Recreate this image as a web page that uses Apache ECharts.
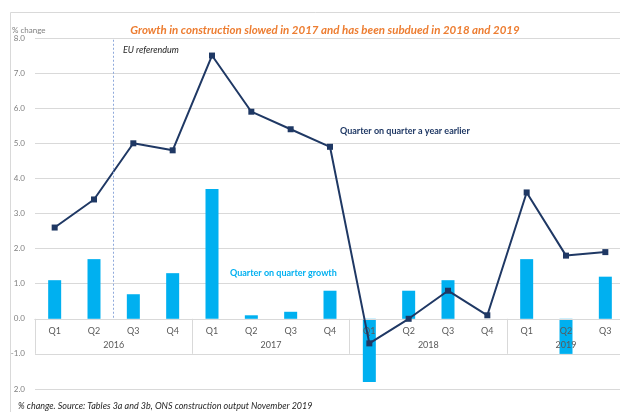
<!DOCTYPE html>
<html>
<head>
<meta charset="utf-8">
<script src="https://cdn.jsdelivr.net/npm/echarts@6/dist/echarts.min.js"></script>
<style>html,body{margin:0;padding:0;background:#fff}#c{width:620px;height:412px}</style>
</head>
<body>
<div id="c"></div>
<script>
var quarters = ['Q1','Q2','Q3','Q4','Q1','Q2','Q3','Q4','Q1','Q2','Q3','Q4','Q1','Q2','Q3'];
var years = ['2016','2017','2018','2019'];
var yearQuarterCounts = [4, 4, 4, 3];
var qoqGrowth = [1.1, 1.7, 0.7, 1.3, 3.7, 0.1, 0.2, 0.8, -1.8, 0.8, 1.1, 0.0, 1.7, -1.0, 1.2];
var qoqYearEarlier = [2.6, 3.4, 5.0, 4.8, 7.5, 5.9, 5.4, 4.9, -0.7, 0.0, 0.8, 0.1, 3.6, 1.8, 1.9];
var yTickValues = [-2, -1, 0, 1, 2, 3, 4, 5, 6, 7, 8];
var yTickLabels = ['2.0', '-1.0', '0.0', '1.0', '2.0', '3.0', '4.0', '5.0', '6.0', '7.0', '8.0'];
var euReferendumAfterIndex = 2; // boundary between Q2 and Q3 2016

// half-quarter slots for the year row
var nSlots = quarters.length * 2;
var yearSlots = [];
for (var i = 0; i <= nSlots; i++) yearSlots.push('');
var boundaries = [];
var start = 0;
for (var y = 0; y < years.length; y++) {
  boundaries.push(start * 2);
  var center = start * 2 + yearQuarterCounts[y];
  yearSlots[center] = years[y];
  start += yearQuarterCounts[y];
}
boundaries.push(start * 2);

var gridTop = 38, gridHeight = 351, yMin = -2, yMax = 8;
// distance from grid bottom to the zero line
var zeroOffset = -gridHeight * (0 - yMin) / (yMax - yMin);

var chart = echarts.init(document.getElementById('c'), null, {renderer: 'canvas'});
var grey = '#D9D9D9';
var option = {
  animation: false,
  backgroundColor: '#fff',
  textStyle: {fontFamily: 'Lato'},
  grid: {left: 35, top: gridTop, width: 590, height: gridHeight, outerBoundsMode: 'none', containLabel: false},
  xAxis: [{
    type: 'category',
    data: quarters,
    position: 'bottom',
    offset: zeroOffset,
    z: 3,
    axisLine: {show: true, onZero: false, lineStyle: {color: grey}},
    axisTick: {show: false},
    axisLabel: {interval: 0, color: '#595959', fontSize: 9, margin: 8, fontFamily: 'Lato'},
    splitLine: {show: false}
  }, {
    type: 'category',
    data: yearSlots,
    boundaryGap: false,
    position: 'bottom',
    offset: zeroOffset,
    z: 3,
    axisLine: {show: true, onZero: false, lineStyle: {color: grey}},
    axisTick: {show: true, length: 35, interval: function (idx) { return boundaries.indexOf(idx) >= 0; }, lineStyle: {color: grey}},
    axisLabel: {interval: 0, color: '#595959', fontSize: 9, margin: 22, fontFamily: 'Lato'},
    splitLine: {show: false}
  }],
  yAxis: {
    type: 'value',
    min: yMin, max: yMax, interval: 1,
    axisLine: {show: false},
    axisTick: {show: false},
    splitLine: {lineStyle: {color: grey, width: 1}},
    axisLabel: {
      color: '#7F7F7F', fontSize: 8, margin: 10, fontFamily: 'Lato',
      formatter: function (v) { var k = yTickValues.indexOf(Math.round(v)); return k >= 0 ? yTickLabels[k] : ''; }
    }
  },
  series: [{
    name: 'Quarter on quarter growth',
    type: 'bar',
    data: qoqGrowth,
    barWidth: 13,
    itemStyle: {color: '#00B0F0'},
    z: 2
  }, {
    name: 'Quarter on quarter a year earlier',
    type: 'line',
    data: qoqYearEarlier,
    symbol: 'rect',
    symbolSize: 6,
    lineStyle: {color: '#1F3864', width: 2},
    itemStyle: {color: '#1F3864'},
    z: 4
  }, {
    name: 'EU referendum',
    type: 'line',
    xAxisIndex: 1,
    data: [],
    silent: true,
    markLine: {
      silent: true,
      symbol: ['none', 'none'],
      label: {show: false},
      lineStyle: {color: '#8EA9DB', type: [2, 2], width: 1},
      data: [[{coord: [euReferendumAfterIndex * 2, 7.95]}, {coord: [euReferendumAfterIndex * 2, 0]}]]
    }
  }],
  graphic: [
    {type: 'rect', shape: {x: 10.5, y: 12.5, width: 620, height: 420}, style: {fill: null, stroke: grey, lineWidth: 1}, silent: true},
    {type: 'text', x: 325, y: 30, style: {text: 'Growth in construction slowed in 2017 and has been subdued in 2018 and 2019', fill: '#ED7D31', font: 'italic bold 11.5px Lato', align: 'center', verticalAlign: 'middle'}},
    {type: 'text', x: 12, y: 30, style: {text: '% change', fill: '#7F7F7F', font: '8px Lato', align: 'left', verticalAlign: 'middle'}},
    {type: 'text', x: 123, y: 50, style: {text: 'EU referendum', fill: '#262626', font: 'italic 9px Lato', align: 'left', verticalAlign: 'middle'}},
    {type: 'text', x: 340, y: 131, style: {text: 'Quarter on quarter a year earlier', fill: '#1F3864', font: 'bold 9px Lato', align: 'left', verticalAlign: 'middle'}},
    {type: 'text', x: 230, y: 273, style: {text: 'Quarter on quarter growth', fill: '#00B0F0', font: 'bold 9px Lato', align: 'left', verticalAlign: 'middle'}},
    {type: 'text', x: 18, y: 406, style: {text: '% change. Source: Tables 3a and 3b, ONS construction output November 2019', fill: '#262626', font: 'italic 9px Lato', align: 'left', verticalAlign: 'middle'}}
  ]
};
chart.setOption(option);
</script>
</body>
</html>
